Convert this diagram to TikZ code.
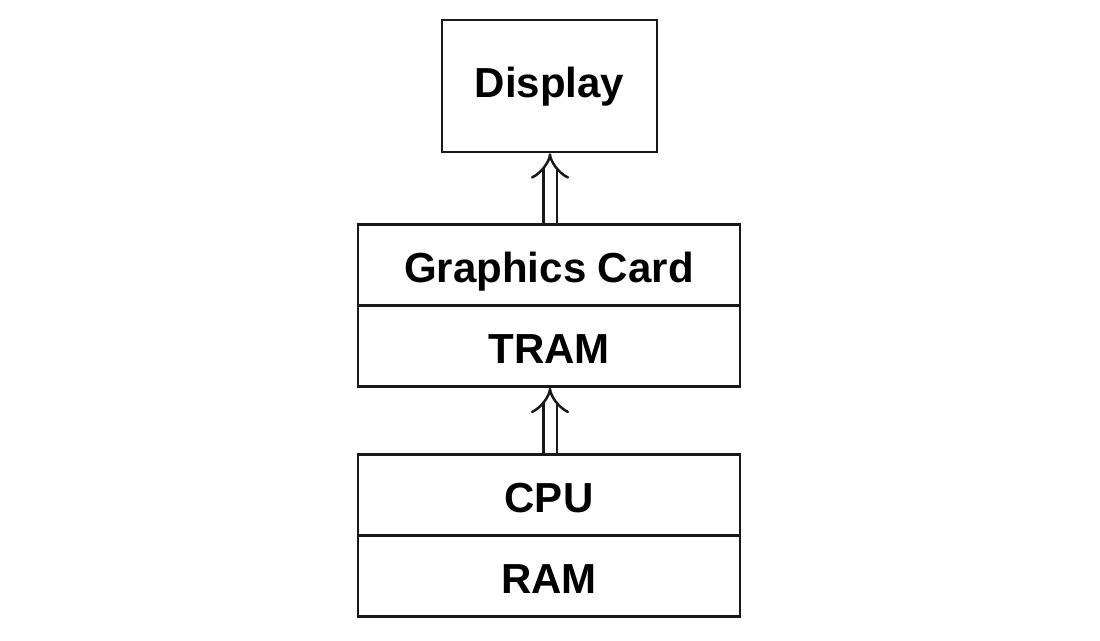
\documentclass[tikz,border=0pt]{standalone}
\usepackage{fontspec}
\setmainfont{Liberation Sans}
\usetikzlibrary{matrix,positioning,arrows.meta}

\begin{document}
\begin{tikzpicture}[x=1pt, y=-1pt, >={Implies[length=18pt, width=40pt]}]
\tikzset{
unit/.style={
  draw=black!90,
  line width=2.5pt,
  font=\fontsize{42}{48}\selectfont\bfseries,
  text height=36pt,
  text depth=0pt,
  align=center
  },
mystack/.style={
  matrix,
  inner sep=0pt,
  row sep=-2.5pt,
  nodes={unit, minimum width=382pt, minimum height=81pt}
  },
link/.style={
  draw=black!90,
  line width=2.5pt,
  double,
  double distance=11pt
  }
}
\useasboundingbox (0,0) rectangle (1100,640);

\node [unit, text height=22pt, minimum width=215pt, minimum height=132pt] (display) at (549.5,86) {Display};

\matrix [mystack, anchor=north] at (549,223)
(card)
{
    \node (gc)   {Graphics Card}; \\
    \node (tram) {TRAM}; \\
};
\matrix [mystack, anchor=north] at (549,453)
(host)
{
    \node (cpu) {CPU}; \\
    \node (ram) {RAM}; \\
};

\draw[link, ->] (gc.north -| 550,0) -- (display.south -| 550,0);
\draw[link, ->] (cpu.north -| 550,0) -- (tram.south -| 550,0);

\end{tikzpicture}
\end{document}
